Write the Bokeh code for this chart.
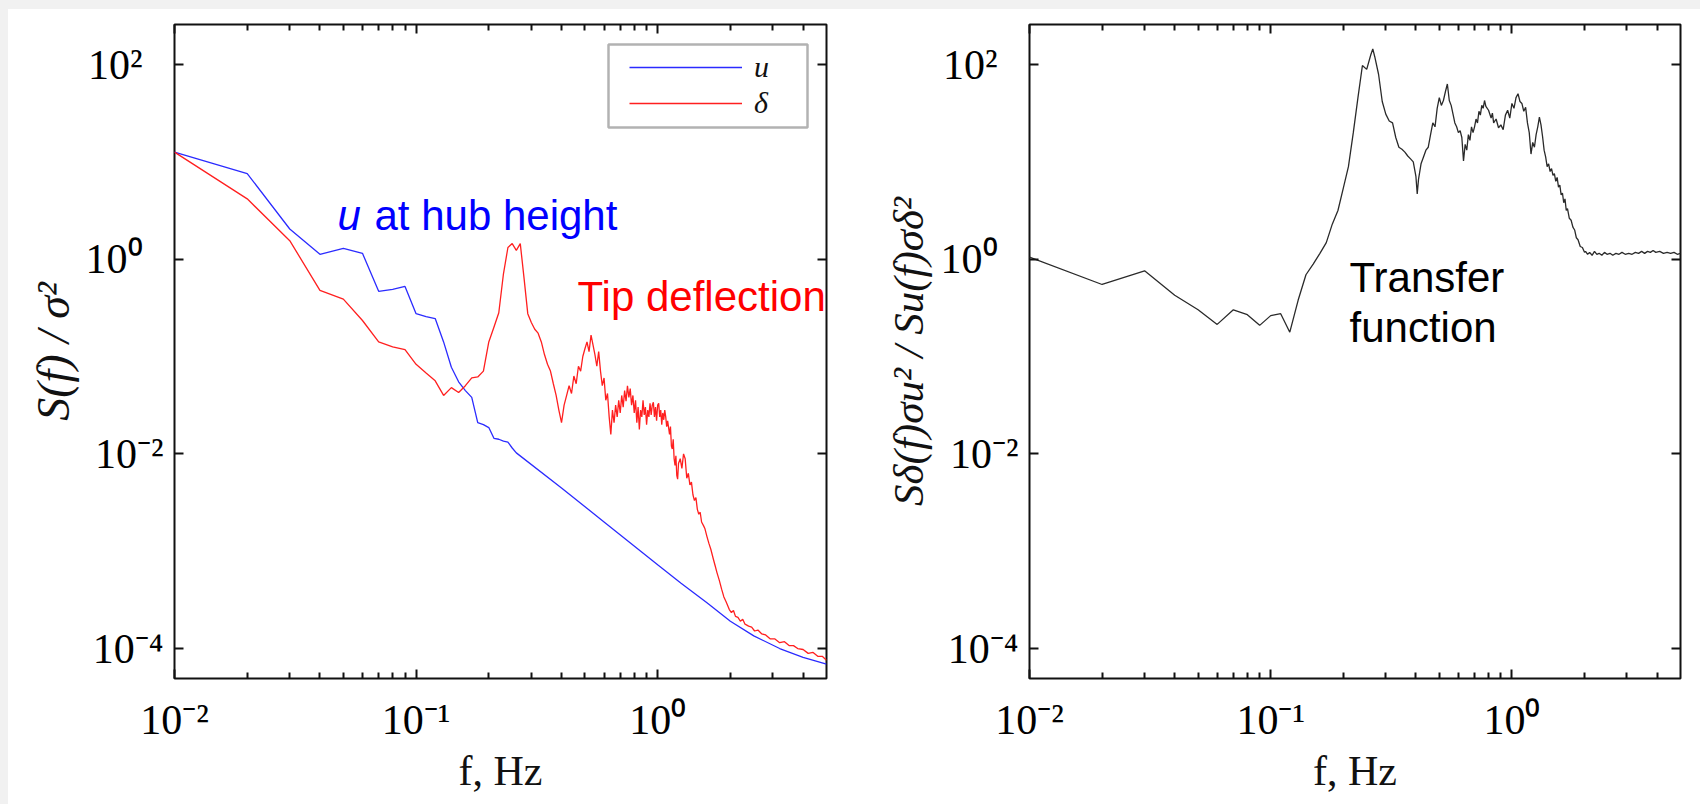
from bokeh.plotting import figure
from bokeh.models import (LogAxis, FixedTicker, Label, Legend, LegendItem,
                          BoxAnnotation, Spacer, Range1d, CustomJSTickFormatter)
from bokeh.layouts import row, column
from bokeh.embed import file_html
from bokeh.resources import INLINE

# ---------------- data ----------------
# wind speed spectrum u at hub height: frequency (Hz) and log10 of S(f)/sigma^2
u_freq = [0.01, 0.02, 0.03, 0.04, 0.05, 0.06, 0.07, 0.08, 0.09, 0.10, 0.11, 0.12,
          0.13, 0.14, 0.15, 0.16, 0.17, 0.18, 0.19, 0.20, 0.21, 0.22, 0.23, 0.24,
          0.25, 0.26, 0.4, 0.6, 1.0, 1.25, 1.6, 2.0, 2.5, 3.2, 4.0, 5.0]
u_log10_S = [1.10, 0.88, 0.31, 0.05, 0.11, 0.06, -0.33, -0.31, -0.28, -0.56, -0.59, -0.61,
             -0.85, -1.11, -1.26, -1.35, -1.42, -1.68, -1.70, -1.73, -1.84, -1.85, -1.87, -1.88,
             -1.94, -1.99, -2.35, -2.70, -3.14, -3.33, -3.53, -3.72, -3.87, -4.00, -4.09, -4.16]

# blade tip deflection spectrum delta
d_freq = [0.01, 0.02, 0.03, 0.04, 0.05, 0.06, 0.07, 0.08, 0.09, 0.10, 0.11, 0.12,
          0.13, 0.14, 0.15, 0.16, 0.17, 0.18, 0.19, 0.20, 0.21, 0.22, 0.23, 0.24,
          0.25, 0.26, 0.27, 0.28, 0.29, 0.30, 0.31, 0.32, 0.33, 0.34, 0.35, 0.36,
          0.37, 0.38, 0.39, 0.40, 0.41, 0.42, 0.43, 0.44, 0.45, 0.46, 0.47, 0.48,
          0.49, 0.50, 0.51, 0.52, 0.53, 0.54, 0.55, 0.56, 0.57, 0.58, 0.59, 0.60,
          0.61, 0.62, 0.63, 0.64, 0.65, 0.66, 0.67, 0.68, 0.69, 0.70, 0.71, 0.72,
          0.73, 0.74, 0.75, 0.76, 0.77, 0.78, 0.79, 0.80, 0.81, 0.82, 0.83, 0.84,
          0.85, 0.86, 0.87, 0.88, 0.89, 0.90, 0.91, 0.92, 0.93, 0.94, 0.95, 0.96,
          0.97, 0.98, 0.99, 1.00, 1.01, 1.02, 1.03, 1.04, 1.05, 1.06, 1.07, 1.08,
          1.09, 1.10, 1.12, 1.13, 1.14, 1.15, 1.16, 1.17, 1.18, 1.19, 1.20, 1.21,
          1.22, 1.24, 1.26, 1.28, 1.30, 1.32, 1.34, 1.36, 1.38, 1.40, 1.42, 1.44,
          1.46, 1.48, 1.50, 1.52, 1.55, 1.57, 1.60, 1.63, 1.66, 1.70, 1.73, 1.76,
          1.80, 1.84, 1.88, 1.92, 1.98, 2.02, 2.06, 2.10, 2.15, 2.20, 2.25, 2.30,
          2.38, 2.45, 2.52, 2.60, 2.70, 2.80, 2.92, 3.05, 3.20, 3.35, 3.50, 3.65,
          3.80, 4.00, 4.20, 4.40, 4.60, 4.80, 5.00]
d_log10_S = [1.10, 0.62, 0.19, -0.32, -0.41, -0.63, -0.85, -0.90, -0.93, -1.08, -1.17, -1.25,
             -1.40, -1.32, -1.37, -1.30, -1.22, -1.21, -1.15, -0.85, -0.70, -0.55, -0.15, 0.12,
             0.16, 0.09, 0.16, -0.20, -0.56, -0.65, -0.72, -0.76, -0.85, -0.98, -1.08, -1.15,
             -1.28, -1.40, -1.55, -1.68, -1.50, -1.40, -1.30, -1.38, -1.20, -1.28, -1.10, -1.15,
             -1.00, -0.92, -0.85, -0.95, -0.78, -0.88, -0.98, -1.10, -0.95, -1.15, -1.30, -1.22,
             -1.45, -1.38, -1.62, -1.80, -1.55, -1.68, -1.50, -1.62, -1.45, -1.58, -1.40, -1.52,
             -1.35, -1.46, -1.30, -1.42, -1.33, -1.50, -1.40, -1.58, -1.45, -1.68, -1.52, -1.75,
             -1.55, -1.62, -1.45, -1.60, -1.52, -1.70, -1.55, -1.62, -1.48, -1.60, -1.50, -1.47,
             -1.62, -1.52, -1.66, -1.50, -1.48, -1.62, -1.55, -1.70, -1.58, -1.65, -1.55, -1.62,
             -1.72, -1.66, -1.80, -1.72, -1.92, -1.95, -1.85, -2.05, -2.12, -2.02, -2.22, -2.26,
             -2.10, -2.05, -2.15, -2.00, -2.05, -2.25, -2.20, -2.32, -2.29, -2.42, -2.48, -2.45,
             -2.57, -2.62, -2.60, -2.70, -2.74, -2.77, -2.85, -2.92, -2.98, -3.08, -3.15, -3.22,
             -3.30, -3.39, -3.47, -3.52, -3.60, -3.63, -3.61, -3.67, -3.68, -3.72, -3.70, -3.75,
             -3.77, -3.78, -3.82, -3.81, -3.85, -3.86, -3.90, -3.90, -3.94, -3.93, -3.97, -3.97,
             -4.00, -4.01, -4.05, -4.04, -4.08, -4.08, -4.12]

# transfer function S_delta sigma_u^2 / S_u sigma_delta^2
t_freq = [0.01, 0.02, 0.03, 0.04, 0.05, 0.06, 0.07, 0.08, 0.09, 0.10, 0.11, 0.12,
          0.13, 0.14, 0.15, 0.16, 0.17, 0.18, 0.19, 0.20, 0.21, 0.22, 0.23, 0.24,
          0.25, 0.26, 0.265, 0.27, 0.28, 0.29, 0.30, 0.31, 0.32, 0.33, 0.34, 0.35,
          0.36, 0.37, 0.38, 0.39, 0.40, 0.405, 0.41, 0.42, 0.43, 0.44, 0.45, 0.46,
          0.47, 0.48, 0.49, 0.50, 0.51, 0.52, 0.53, 0.54, 0.55, 0.56, 0.57, 0.58,
          0.59, 0.60, 0.61, 0.62, 0.63, 0.64, 0.65, 0.66, 0.67, 0.68, 0.69, 0.70,
          0.71, 0.72, 0.73, 0.74, 0.75, 0.76, 0.77, 0.78, 0.80, 0.82, 0.83, 0.84,
          0.86, 0.88, 0.90, 0.92, 0.94, 0.96, 0.98, 1.00, 1.02, 1.04, 1.06, 1.08,
          1.10, 1.12, 1.14, 1.16, 1.18, 1.20, 1.22, 1.24, 1.26, 1.28, 1.30, 1.32,
          1.34, 1.36, 1.38, 1.40, 1.42, 1.44, 1.46, 1.48, 1.50, 1.52, 1.54, 1.56,
          1.58, 1.60, 1.62, 1.64, 1.66, 1.68, 1.70, 1.73, 1.76, 1.79, 1.82, 1.85,
          1.88, 1.92, 1.96, 2.00, 2.02, 2.06, 2.10, 2.15, 2.20, 2.25, 2.30, 2.36,
          2.42, 2.48, 2.55, 2.62, 2.70, 2.78, 2.86, 2.95, 3.05, 3.15, 3.25, 3.35,
          3.45, 3.55, 3.65, 3.75, 3.85, 3.95, 4.10, 4.25, 4.40, 4.55, 4.70, 4.85,
          5.00]
t_log10 = [0.02, -0.26, -0.12, -0.37, -0.52, -0.67, -0.52, -0.57, -0.68, -0.58, -0.56, -0.75,
           -0.42, -0.16, -0.05, 0.06, 0.17, 0.36, 0.50, 0.73, 0.95, 1.30, 1.66, 1.99,
           1.95, 2.10, 2.16, 2.08, 1.90, 1.62, 1.49, 1.42, 1.40, 1.25, 1.15, 1.13,
           1.10, 1.06, 1.03, 1.00, 0.85, 0.67, 0.82, 0.98, 1.05, 1.12, 1.15, 1.28,
           1.40, 1.36, 1.55, 1.66, 1.58, 1.63, 1.72, 1.80, 1.63, 1.58, 1.49, 1.40,
           1.36, 1.30, 1.32, 1.25, 1.01, 1.18, 1.12, 1.28, 1.22, 1.36, 1.30, 1.36,
           1.44, 1.40, 1.52, 1.48, 1.58, 1.55, 1.63, 1.57, 1.53, 1.45, 1.50, 1.40,
           1.44, 1.35, 1.38, 1.33, 1.48, 1.53, 1.45, 1.60, 1.55, 1.66, 1.70, 1.62,
           1.60, 1.52, 1.56, 1.40, 1.30, 1.08, 1.20, 1.15, 1.28, 1.36, 1.46, 1.38,
           1.26, 1.12, 1.05, 0.95, 0.98, 0.90, 0.93, 0.86, 0.88, 0.80, 0.84, 0.74,
           0.76, 0.66, 0.68, 0.58, 0.62, 0.50, 0.52, 0.42, 0.40, 0.33, 0.30, 0.22,
           0.20, 0.13, 0.12, 0.07, 0.08, 0.05, 0.07, 0.04, 0.08, 0.05, 0.06, 0.04,
           0.07, 0.05, 0.06, 0.04, 0.06, 0.05, 0.07, 0.05, 0.06, 0.05, 0.07, 0.06,
           0.08, 0.06, 0.08, 0.07, 0.09, 0.07, 0.08, 0.06, 0.07, 0.06, 0.07, 0.05,
           0.06]

x_major = [0.01, 0.1, 1.0]
x_minor = [0.02, 0.03, 0.04, 0.05, 0.06, 0.07, 0.08, 0.09,
           0.2, 0.3, 0.4, 0.5, 0.6, 0.7, 0.8, 0.9, 2.0, 3.0, 4.0]
y_major = [1e-4, 1e-2, 1.0, 1e2]
x_tick_text = {0.01: "10⁻²", 0.1: "10⁻¹", 1.0: "10⁰"}
# figure space pads the short labels so that the "10" bases line up
y_tick_text = {1e-4: "10⁻⁴", 1e-2: "10⁻²", 1.0: "10⁰\u2007", 1e2: "10²\u2007"}
x_title = "f, Hz"
y_title_left = "S(f) / σ²"
y_title_right = "Sδ(f)σu² / Su(f)σδ²"

u_S = [10 ** v for v in u_log10_S]
d_S = [10 ** v for v in d_log10_S]
t_val = [10 ** v for v in t_log10]

# ---------------- styling helpers ----------------
SERIF = "Liberation Serif"
SANS = "Liberation Sans"
X_RANGE = (0.01, 5.0)
Y_RANGE = (10 ** -4.308, 10 ** 2.411)
INK = "#111111"


def style_ticks(ax):
    ax.axis_line_color = None
    ax.major_tick_in = 9
    ax.major_tick_out = 0
    ax.minor_tick_in = 6
    ax.minor_tick_out = 0
    ax.major_tick_line_width = 2
    ax.minor_tick_line_width = 2
    ax.major_tick_line_color = INK
    ax.minor_tick_line_color = INK


def make_fig(width, left, right, ytitle, ytitle_size, ytitle_standoff):
    p = figure(width=width, height=795, x_axis_type="log", y_axis_type="log",
               x_range=Range1d(*X_RANGE), y_range=Range1d(*Y_RANGE),
               output_backend="svg", toolbar_location=None,
               min_border_left=left, min_border_right=right,
               min_border_top=15, min_border_bottom=126,
               background_fill_color="white", border_fill_color="white")
    p.outline_line_color = INK
    p.outline_line_width = 2
    p.grid.visible = False

    xa = p.xaxis[0]
    ya = p.yaxis[0]
    xa.ticker = FixedTicker(ticks=x_major, minor_ticks=x_minor)
    ya.ticker = FixedTicker(ticks=y_major, minor_ticks=[])
    xa.major_label_overrides = x_tick_text
    ya.major_label_overrides = y_tick_text
    for ax in (xa, ya):
        style_ticks(ax)
        ax.major_label_text_font = SERIF
        ax.major_label_text_font_size = "42px"
        ax.major_label_text_color = "#000000"
        ax.axis_label_text_font = SERIF
        ax.axis_label_text_color = "#111111"
    xa.major_label_standoff = 18
    ya.major_label_standoff = 11

    xa.axis_label = x_title
    xa.axis_label_text_font_style = "normal"
    xa.axis_label_text_font_size = "42px"
    xa.axis_label_standoff = 2

    ya.axis_label = ytitle
    ya.axis_label_text_font_style = "italic"
    ya.axis_label_text_font_size = ytitle_size
    ya.axis_label_standoff = ytitle_standoff

    top = LogAxis(ticker=FixedTicker(ticks=x_major, minor_ticks=x_minor),
                  formatter=CustomJSTickFormatter(code="return ''"))
    rgt = LogAxis(ticker=FixedTicker(ticks=y_major, minor_ticks=[]),
                  formatter=CustomJSTickFormatter(code="return ''"))
    for ax in (top, rgt):
        style_ticks(ax)
        ax.major_label_standoff = 0
    p.add_layout(top, "above")
    p.add_layout(rgt, "right")
    return p


# ---------------- left panel ----------------
p1 = make_fig(852, 166, 34, y_title_left, "46px", 4)
r_u = p1.line(u_freq, u_S, line_color="#2b2bff", line_width=1.3)
r_d = p1.line(d_freq, d_S, line_color="#ff1f1f", line_width=1.3)

box = BoxAnnotation(left=434, right=633, bottom=551, top=634,
                    left_units="screen", right_units="screen",
                    bottom_units="screen", top_units="screen",
                    fill_color="white", fill_alpha=1.0,
                    line_color="#000000", line_width=2.5)
p1.add_layout(box)
legend = Legend(items=[LegendItem(label="u", renderers=[r_u]),
                       LegendItem(label="δ", renderers=[r_d])],
                location=(455, 557), padding=0, spacing=0,
                glyph_width=113, glyph_height=36, label_height=36,
                label_width=30, label_standoff=12,
                label_text_font=SERIF, label_text_font_style="italic",
                label_text_font_size="30px", label_text_color="#111111",
                border_line_color=None, background_fill_alpha=0.0)
p1.add_layout(legend)

p1.add_layout(Label(x=163, y=463, x_units="screen", y_units="screen", text="u",
                    text_font=SANS, text_font_style="italic", text_font_size="42px",
                    text_color="#0000ff", text_baseline="alphabetic"))
p1.add_layout(Label(x=200, y=463, x_units="screen", y_units="screen",
                    text="at hub height", text_font=SANS, text_font_size="42px",
                    text_color="#0000ff", text_baseline="alphabetic"))
p1.add_layout(Label(x=403, y=382, x_units="screen", y_units="screen",
                    text="Tip deflection", text_font=SANS, text_font_size="42px",
                    text_color="#ff0000", text_baseline="alphabetic"))

# ---------------- right panel ----------------
p2 = make_fig(840, 169, 20, y_title_right, "43px", 6)
p2.line(t_freq, t_val, line_color="#2a2a2a", line_width=1.3)

p2.add_layout(Label(x=320, y=401, x_units="screen", y_units="screen", text="Transfer",
                    text_font=SANS, text_font_size="42px", text_color="#000000",
                    text_baseline="alphabetic"))
p2.add_layout(Label(x=320, y=351, x_units="screen", y_units="screen", text="function",
                    text_font=SANS, text_font_size="42px", text_color="#000000",
                    text_baseline="alphabetic"))

grey = {"background-color": "#f1f1f1"}
layout = row(Spacer(width=8, height=804, styles=grey),
             column(Spacer(width=1692, height=9, styles=grey), row(p1, p2)))

open("out.html", "w").write(file_html(layout, INLINE))
